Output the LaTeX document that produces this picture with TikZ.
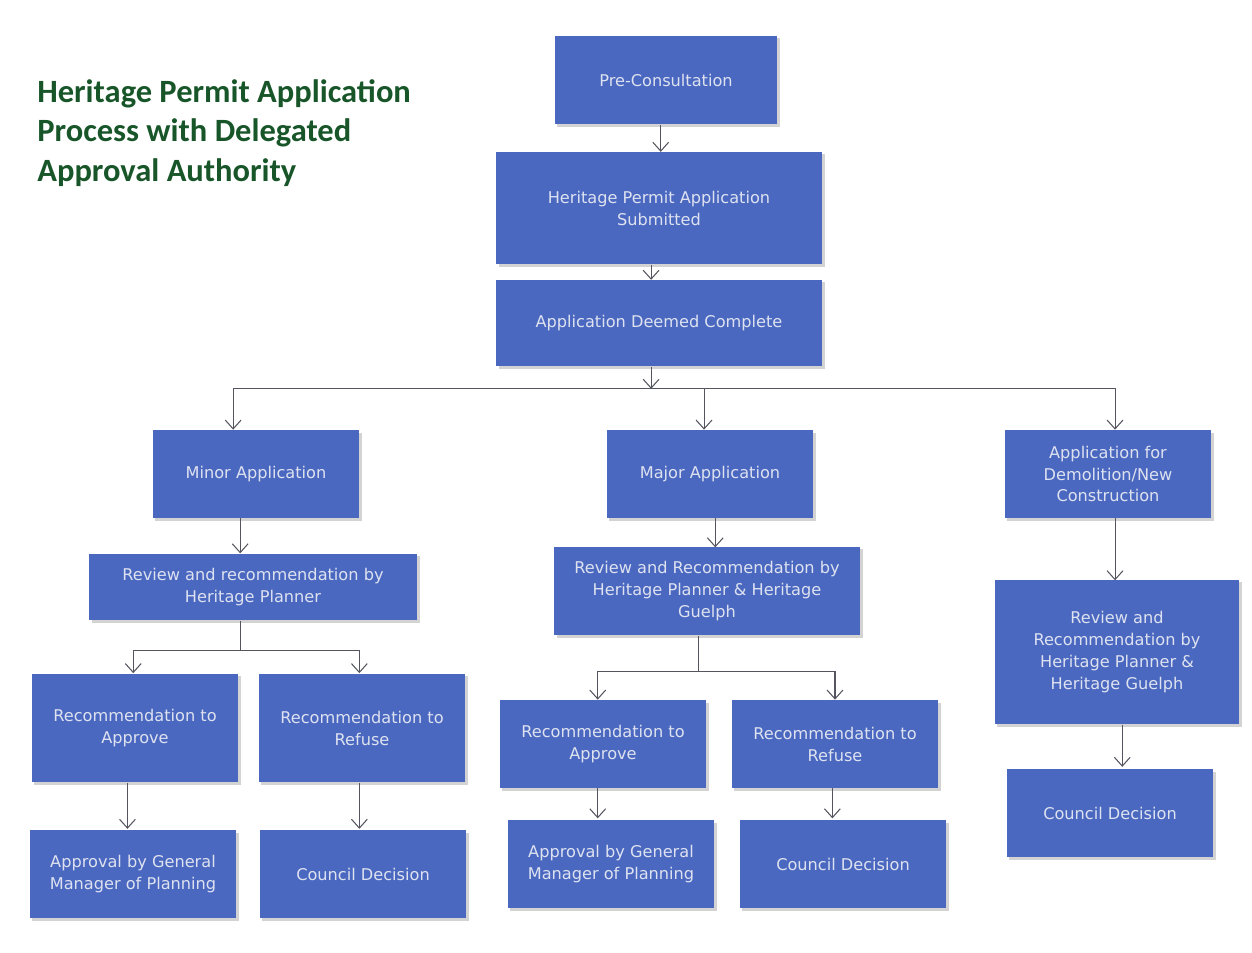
\documentclass[tikz,border=0pt]{standalone}
\usepackage{fontspec}
\setmainfont{DejaVu Sans}
\newfontfamily\titlefont{Carlito}
\usetikzlibrary{arrows.meta,shadows}
\definecolor{boxblue}{RGB}{74,104,192}
\definecolor{boxtext}{RGB}{222,226,240}
\definecolor{titlegreen}{RGB}{24,86,42}
\definecolor{arrowgray}{RGB}{85,85,95}
\tikzset{>={Straight Barb[length=5pt,width=9pt]}}
\tikzset{
    stepbox/.style={fill=boxblue, text=boxtext, align=center, inner sep=2pt,
        font=\fontsize{9.2}{12.5}\selectfont,
        drop shadow={opacity=0.35, shadow xshift=1.5pt, shadow yshift=-1.5pt}},
    link/.style={arrowgray, line width=0.6pt}
}

\begin{document}
\begin{tikzpicture}[x=0.02cm, y=-0.02cm]
    \useasboundingbox (0,0) rectangle (1252,953);

    \node[anchor=west, align=left, inner sep=0pt, text=titlegreen,
        font=\titlefont\bfseries\fontsize{18.5}{22.5}\selectfont] (title) at (37,133)
        {Heritage Permit Application\\Process with Delegated\\Approval Authority};

    \node[stepbox, minimum width=4.46cm, minimum height=1.78cm] (pre) at (666,80) {Pre-Consultation};
    \node[stepbox, minimum width=6.52cm, minimum height=2.26cm] (sub) at (659,208) {Heritage Permit Application\\Submitted};
    \node[stepbox, minimum width=6.52cm, minimum height=1.74cm] (comp) at (659,323) {Application Deemed Complete};

    \node[stepbox, minimum width=4.14cm, minimum height=1.76cm] (minor) at (256,474) {Minor Application};
    \node[stepbox, minimum width=4.14cm, minimum height=1.76cm] (major) at (710,474) {Major Application};
    \node[stepbox, minimum width=4.14cm, minimum height=1.76cm] (demo) at (1108,474) {Application for\\Demolition/New\\Construction};

    \node[stepbox, minimum width=6.56cm, minimum height=1.34cm] (revmin) at (253,587) {Review and recommendation by\\Heritage Planner};
    \node[stepbox, minimum width=6.12cm, minimum height=1.78cm] (revmaj) at (707,591) {Review and Recommendation by\\Heritage Planner \& Heritage\\Guelph};
    \node[stepbox, minimum width=4.9cm, minimum height=2.9cm] (revdemo) at (1117,652) {Review and\\Recommendation by\\Heritage Planner \&\\Heritage Guelph};

    \node[stepbox, minimum width=4.14cm, minimum height=2.18cm] (recA1) at (135,728) {Recommendation to\\Approve};
    \node[stepbox, minimum width=4.14cm, minimum height=2.18cm] (recR1) at (362,728) {Recommendation to\\Refuse};
    \node[stepbox, minimum width=4.14cm, minimum height=1.76cm] (appr1) at (133,874) {Approval by General\\Manager of Planning};
    \node[stepbox, minimum width=4.14cm, minimum height=1.76cm] (council1) at (363,874) {Council Decision};

    \node[stepbox, minimum width=4.14cm, minimum height=1.76cm] (recA2) at (603,744) {Recommendation to\\Approve};
    \node[stepbox, minimum width=4.14cm, minimum height=1.76cm] (recR2) at (835,744) {Recommendation to\\Refuse};
    \node[stepbox, minimum width=4.14cm, minimum height=1.76cm] (appr2) at (611,864) {Approval by General\\Manager of Planning};
    \node[stepbox, minimum width=4.14cm, minimum height=1.76cm] (council2) at (843,864) {Council Decision};

    \node[stepbox, minimum width=4.14cm, minimum height=1.76cm] (council3) at (1110,813) {Council Decision};

    \draw[link, ->] ([xshift=-3pt]pre.south) -- ++(0,27);
    \draw[link, ->] ([xshift=-4.5pt]sub.south) -- ++(0,15);
    \draw[link, ->] ([xshift=-4.5pt]comp.south) -- ++(0,22) coordinate (bus);
    \draw[link, ->] (bus) -| ([xshift=-13pt]minor.north);
    \draw[link, ->] (bus) -| ([xshift=-3.4pt]major.north);
    \draw[link, ->] (bus) -| ([xshift=4pt]demo.north);

    \draw[link, ->] ([xshift=-9pt]minor.south) -- ++(0,35);
    \draw[link, ->] ([xshift=3pt]major.south) -- ++(0,29);
    \draw[link, ->] ([xshift=4pt]demo.south) -- ++(0,62);

    \draw[link] ([xshift=-7pt]revmin.south) -- ++(0,30) coordinate (splitmin);
    \draw[link, ->] (splitmin) -| ([xshift=-1pt]recA1.north);
    \draw[link, ->] (splitmin) -| ([xshift=-1.5pt]recR1.north);
    \draw[link] ([xshift=-5pt]revmaj.south) -- ++(0,36) coordinate (splitmaj);
    \draw[link, ->] (splitmaj) -| ([xshift=-3pt]recA2.north);
    \draw[link, ->] (splitmaj) -| (recR2.north);

    \draw[link, ->] ([xshift=-4.3pt]recA1.south) -- ++(0,46);
    \draw[link, ->] ([xshift=-1.5pt]recR1.south) -- ++(0,46);
    \draw[link, ->] ([xshift=-3pt]recA2.south) -- ++(0,30);
    \draw[link, ->] ([xshift=-1.5pt]recR2.south) -- ++(0,30);
    \draw[link, ->] ([xshift=3pt]revdemo.south) -- ++(0,42);

\end{tikzpicture}
\end{document}
